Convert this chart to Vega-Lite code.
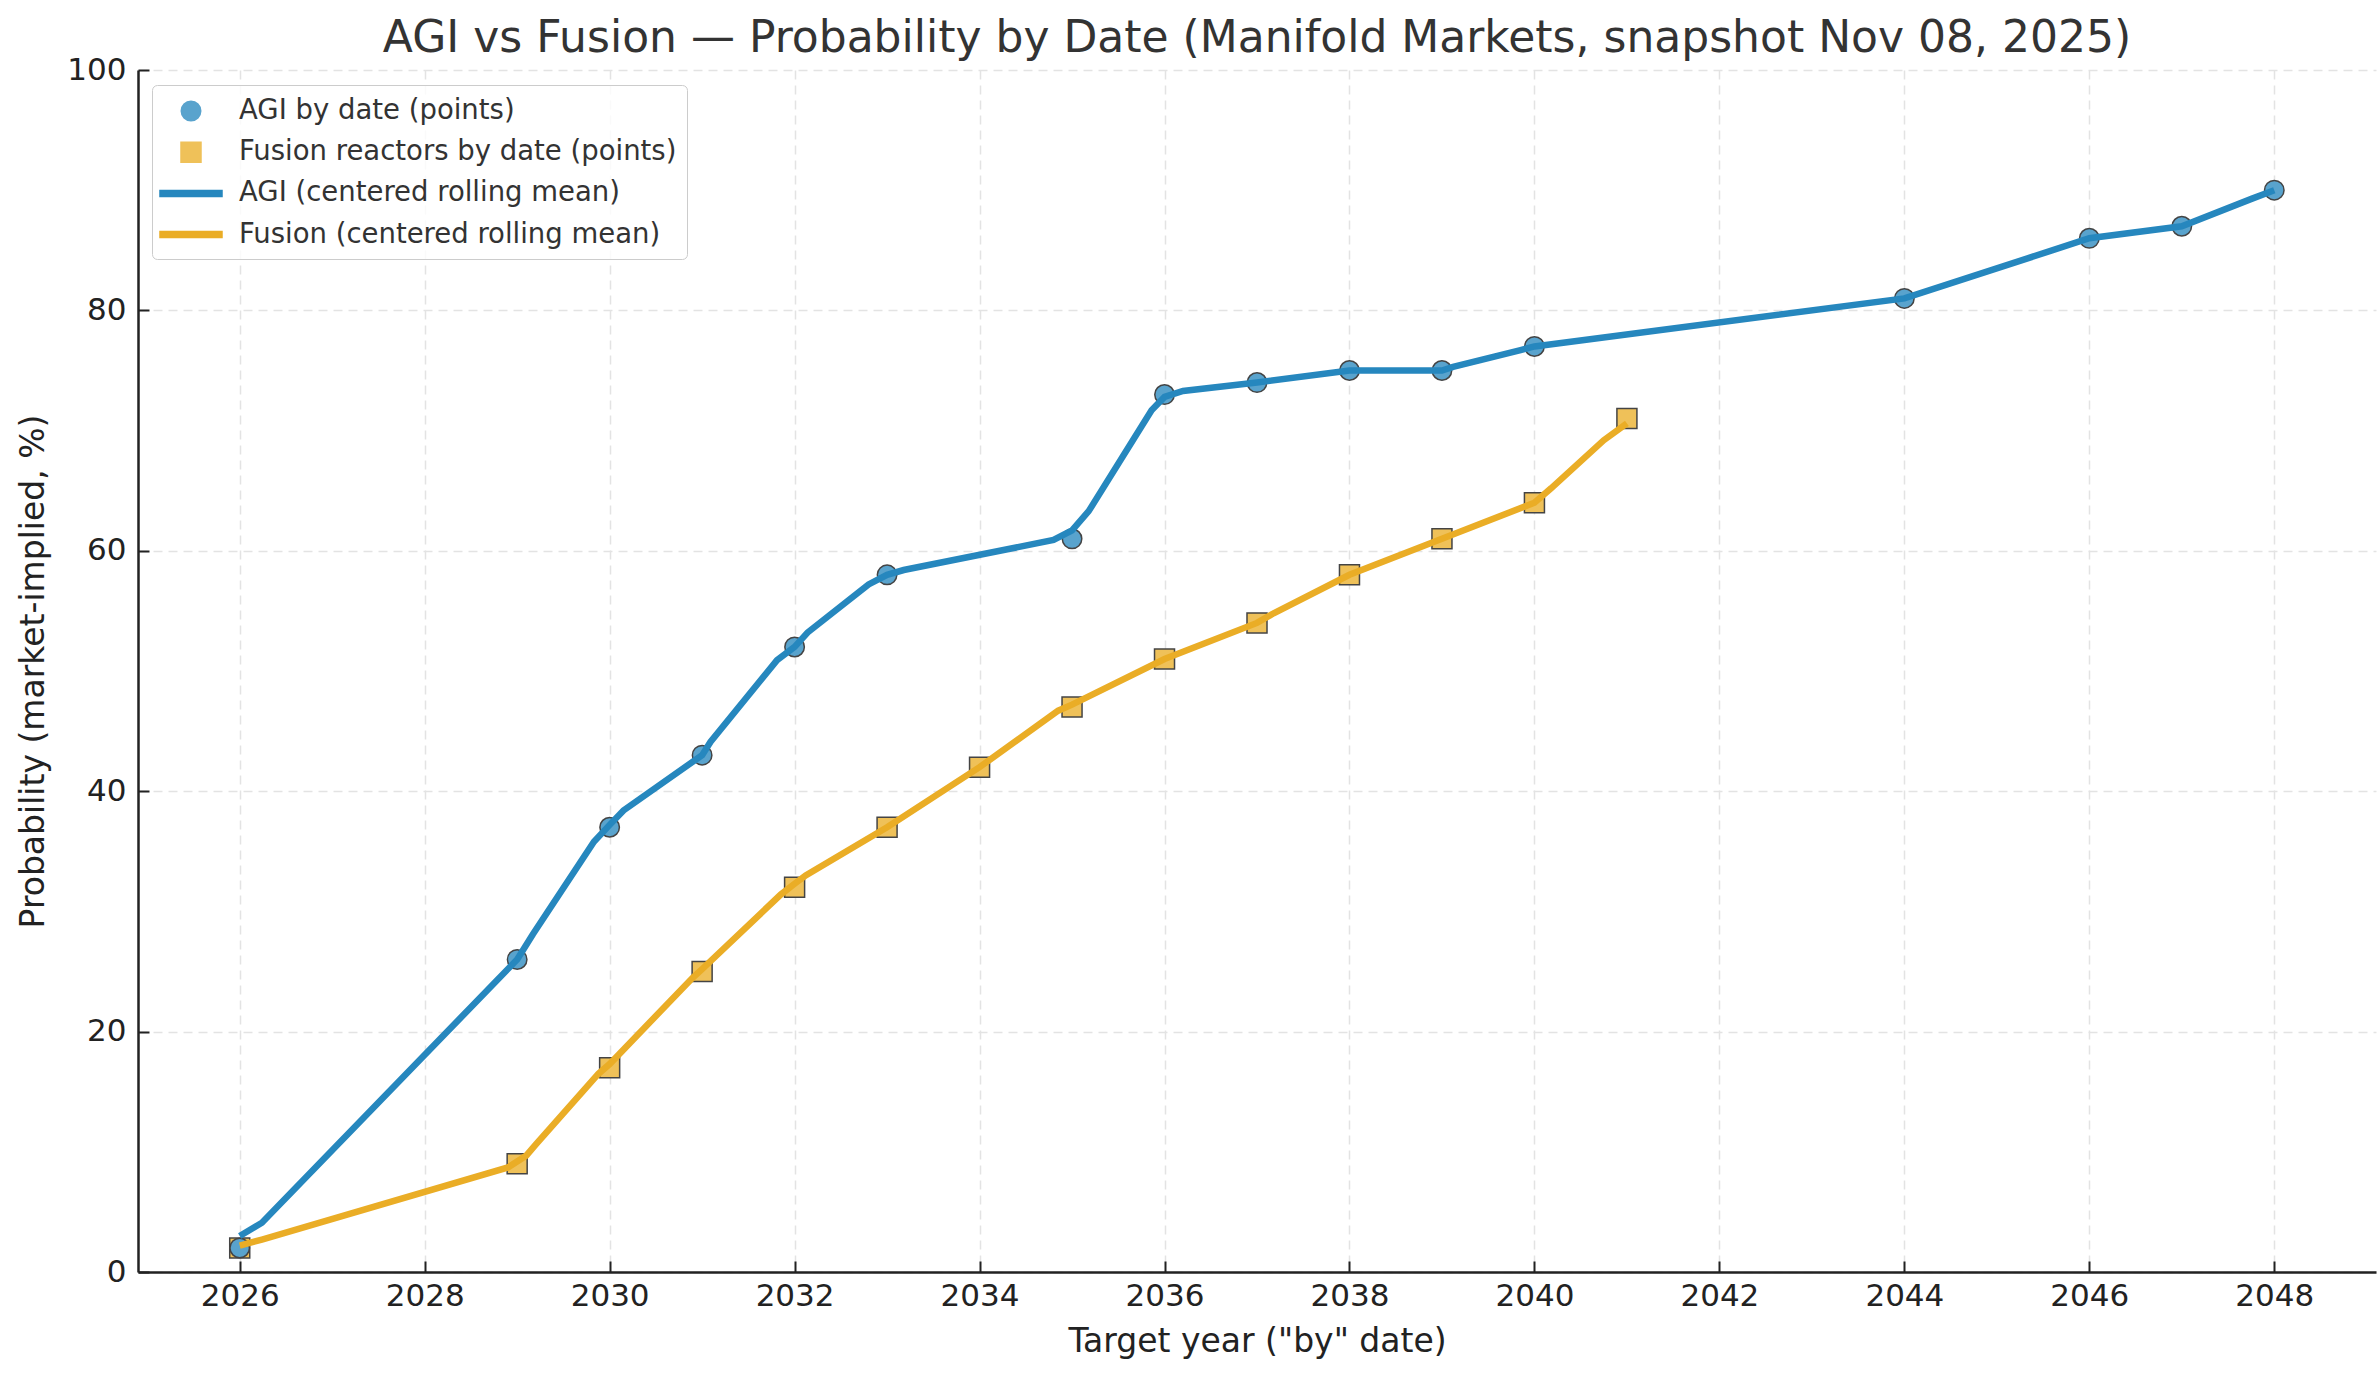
{
  "$schema": "https://vega.github.io/schema/vega-lite/v6.json",
  "width": 2238,
  "height": 1202,
  "autosize": {"type": "none"},
  "padding": {"left": 138, "top": 70, "right": 3, "bottom": 106},
  "background": "white",
  "title": {
    "text": "AGI vs Fusion — Probability by Date (Manifold Markets, snapshot Nov 08, 2025)",
    "font": "DejaVu Sans",
    "fontSize": 44,
    "fontWeight": "normal",
    "color": "#333333",
    "anchor": "middle",
    "baseline": "alphabetic",
    "offset": 16,
    "dy": 58
  },
  "config": {
    "view": {"stroke": null},
    "font": "DejaVu Sans",
    "axis": {
      "labelFont": "DejaVu Sans",
      "titleFont": "DejaVu Sans",
      "labelFontSize": 31,
      "titleFontSize": 33,
      "labelColor": "#222222",
      "titleColor": "#222222",
      "titleFontWeight": "normal",
      "domainColor": "#222222",
      "domainWidth": 2.5,
      "tickColor": "#222222",
      "tickWidth": 2,
      "tickSize": -11,
      "gridColor": "#e3e3e3",
      "gridWidth": 1.5,
      "gridDash": [9, 6]
    }
  },
  "data": {
    "values": [
      {"series": "Fusion reactors by date (points)", "year": 2026, "prob": 2},
      {"series": "Fusion reactors by date (points)", "year": 2029, "prob": 9},
      {"series": "Fusion reactors by date (points)", "year": 2030, "prob": 17},
      {"series": "Fusion reactors by date (points)", "year": 2031, "prob": 25},
      {"series": "Fusion reactors by date (points)", "year": 2032, "prob": 32},
      {"series": "Fusion reactors by date (points)", "year": 2033, "prob": 37},
      {"series": "Fusion reactors by date (points)", "year": 2034, "prob": 42},
      {"series": "Fusion reactors by date (points)", "year": 2035, "prob": 47},
      {"series": "Fusion reactors by date (points)", "year": 2036, "prob": 51},
      {"series": "Fusion reactors by date (points)", "year": 2037, "prob": 54},
      {"series": "Fusion reactors by date (points)", "year": 2038, "prob": 58},
      {"series": "Fusion reactors by date (points)", "year": 2039, "prob": 61},
      {"series": "Fusion reactors by date (points)", "year": 2040, "prob": 64},
      {"series": "Fusion reactors by date (points)", "year": 2041, "prob": 71},
      {"series": "AGI by date (points)", "year": 2026, "prob": 2},
      {"series": "AGI by date (points)", "year": 2029, "prob": 26},
      {"series": "AGI by date (points)", "year": 2030, "prob": 37},
      {"series": "AGI by date (points)", "year": 2031, "prob": 43},
      {"series": "AGI by date (points)", "year": 2032, "prob": 52},
      {"series": "AGI by date (points)", "year": 2033, "prob": 58},
      {"series": "AGI by date (points)", "year": 2035, "prob": 61},
      {"series": "AGI by date (points)", "year": 2036, "prob": 73},
      {"series": "AGI by date (points)", "year": 2037, "prob": 74},
      {"series": "AGI by date (points)", "year": 2038, "prob": 75},
      {"series": "AGI by date (points)", "year": 2039, "prob": 75},
      {"series": "AGI by date (points)", "year": 2040, "prob": 77},
      {"series": "AGI by date (points)", "year": 2044, "prob": 81},
      {"series": "AGI by date (points)", "year": 2046, "prob": 86},
      {"series": "AGI by date (points)", "year": 2047, "prob": 87},
      {"series": "AGI by date (points)", "year": 2048, "prob": 90},
      {"series": "AGI (centered rolling mean)", "year": 2026, "prob": 3.0},
      {"series": "AGI (centered rolling mean)", "year": 2026.24, "prob": 4.1},
      {"series": "AGI (centered rolling mean)", "year": 2029, "prob": 26.0},
      {"series": "AGI (centered rolling mean)", "year": 2029.17, "prob": 28.1},
      {"series": "AGI (centered rolling mean)", "year": 2029.83, "prob": 35.8},
      {"series": "AGI (centered rolling mean)", "year": 2030, "prob": 37.2},
      {"series": "AGI (centered rolling mean)", "year": 2030.15, "prob": 38.4},
      {"series": "AGI (centered rolling mean)", "year": 2031, "prob": 43.0},
      {"series": "AGI (centered rolling mean)", "year": 2031.09, "prob": 44.1},
      {"series": "AGI (centered rolling mean)", "year": 2031.81, "prob": 50.9},
      {"series": "AGI (centered rolling mean)", "year": 2032, "prob": 52.0},
      {"series": "AGI (centered rolling mean)", "year": 2032.14, "prob": 53.2},
      {"series": "AGI (centered rolling mean)", "year": 2032.8, "prob": 57.2},
      {"series": "AGI (centered rolling mean)", "year": 2033, "prob": 58.0},
      {"series": "AGI (centered rolling mean)", "year": 2033.18, "prob": 58.4},
      {"series": "AGI (centered rolling mean)", "year": 2034.8, "prob": 60.9},
      {"series": "AGI (centered rolling mean)", "year": 2035, "prob": 61.7},
      {"series": "AGI (centered rolling mean)", "year": 2035.18, "prob": 63.3},
      {"series": "AGI (centered rolling mean)", "year": 2035.86, "prob": 71.7},
      {"series": "AGI (centered rolling mean)", "year": 2036, "prob": 72.8},
      {"series": "AGI (centered rolling mean)", "year": 2036.2, "prob": 73.3},
      {"series": "AGI (centered rolling mean)", "year": 2037, "prob": 74.0},
      {"series": "AGI (centered rolling mean)", "year": 2038, "prob": 75.0},
      {"series": "AGI (centered rolling mean)", "year": 2039, "prob": 75.0},
      {"series": "AGI (centered rolling mean)", "year": 2039.12, "prob": 75.3},
      {"series": "AGI (centered rolling mean)", "year": 2039.85, "prob": 76.7},
      {"series": "AGI (centered rolling mean)", "year": 2040, "prob": 77.0},
      {"series": "AGI (centered rolling mean)", "year": 2044, "prob": 81.0},
      {"series": "AGI (centered rolling mean)", "year": 2046, "prob": 86.0},
      {"series": "AGI (centered rolling mean)", "year": 2047, "prob": 87.0},
      {"series": "AGI (centered rolling mean)", "year": 2047.76, "prob": 89.3},
      {"series": "AGI (centered rolling mean)", "year": 2048, "prob": 90.0},
      {"series": "Fusion (centered rolling mean)", "year": 2026, "prob": 2.2},
      {"series": "Fusion (centered rolling mean)", "year": 2026.24, "prob": 2.7},
      {"series": "Fusion (centered rolling mean)", "year": 2028.9, "prob": 8.7},
      {"series": "Fusion (centered rolling mean)", "year": 2029.1, "prob": 9.7},
      {"series": "Fusion (centered rolling mean)", "year": 2029.2, "prob": 10.6},
      {"series": "Fusion (centered rolling mean)", "year": 2029.88, "prob": 16.5},
      {"series": "Fusion (centered rolling mean)", "year": 2030, "prob": 17.3},
      {"series": "Fusion (centered rolling mean)", "year": 2030.9, "prob": 24.5},
      {"series": "Fusion (centered rolling mean)", "year": 2031, "prob": 25.2},
      {"series": "Fusion (centered rolling mean)", "year": 2031.85, "prob": 31.4},
      {"series": "Fusion (centered rolling mean)", "year": 2032, "prob": 32.3},
      {"series": "Fusion (centered rolling mean)", "year": 2032.12, "prob": 33.0},
      {"series": "Fusion (centered rolling mean)", "year": 2033, "prob": 37.0},
      {"series": "Fusion (centered rolling mean)", "year": 2034, "prob": 42.0},
      {"series": "Fusion (centered rolling mean)", "year": 2034.85, "prob": 46.7},
      {"series": "Fusion (centered rolling mean)", "year": 2035, "prob": 47.2},
      {"series": "Fusion (centered rolling mean)", "year": 2036, "prob": 51.0},
      {"series": "Fusion (centered rolling mean)", "year": 2037, "prob": 54.0},
      {"series": "Fusion (centered rolling mean)", "year": 2037.18, "prob": 54.8},
      {"series": "Fusion (centered rolling mean)", "year": 2038, "prob": 58.0},
      {"series": "Fusion (centered rolling mean)", "year": 2039, "prob": 61.0},
      {"series": "Fusion (centered rolling mean)", "year": 2040, "prob": 64.0},
      {"series": "Fusion (centered rolling mean)", "year": 2040.18, "prob": 65.2},
      {"series": "Fusion (centered rolling mean)", "year": 2040.75, "prob": 69.2},
      {"series": "Fusion (centered rolling mean)", "year": 2041, "prob": 70.6}
    ]
  },
  "encoding": {
    "x": {
      "field": "year",
      "type": "quantitative",
      "scale": {"domain": [2024.9, 2049.1], "nice": false, "zero": false},
      "axis": {
        "values": [2026, 2028, 2030, 2032, 2034, 2036, 2038, 2040, 2042, 2044, 2046, 2048],
        "format": "d",
        "title": "Target year (\"by\" date)",
        "labelPadding": 20,
        "titleBaseline": "alphabetic",
        "titleY": 79
      }
    },
    "y": {
      "field": "prob",
      "type": "quantitative",
      "scale": {"domain": [0, 100], "nice": false},
      "axis": {
        "values": [0, 20, 40, 60, 80, 100],
        "title": "Probability (market-implied, %)",
        "labelPadding": 23,
        "titleBaseline": "alphabetic",
        "titleX": -95,
        "titleY": 601
      }
    },
    "color": {
      "field": "series",
      "type": "nominal",
      "scale": {
        "domain": ["AGI by date (points)", "Fusion reactors by date (points)", "AGI (centered rolling mean)", "Fusion (centered rolling mean)"],
        "range": ["#59a3cd", "#efc159", "#2687be", "#eaad26"]
      },
      "legend": {
        "orient": "none",
        "legendX": 14,
        "legendY": 15,
        "title": null,
        "symbolSize": 900,
        "symbolStrokeWidth": 1.5,
        "symbolOffset": 13,
        "labelFont": "DejaVu Sans",
        "labelFontSize": 27.5,
        "labelColor": "#333333",
        "labelOffset": 32,
        "labelLimit": 1000,
        "padding": 10,
        "rowPadding": 11.2,
        "fillColor": "rgba(255,255,255,0.8)",
        "strokeColor": "#cccccc",
        "cornerRadius": 5
      }
    }
  },
  "layer": [
    {
      "transform": [{"filter": {"field": "series", "oneOf": ["AGI by date (points)", "Fusion reactors by date (points)"]}}],
      "mark": {"type": "point", "filled": true, "opacity": 1, "size": 900, "stroke": "#444444", "strokeWidth": 1.5},
      "encoding": {
        "shape": {
          "field": "series",
          "type": "nominal",
          "scale": {
            "domain": ["AGI by date (points)", "Fusion reactors by date (points)", "AGI (centered rolling mean)", "Fusion (centered rolling mean)"],
            "range": [
              "M-0.65,0A0.65,0.65,0,1,0,0.65,0A0.65,0.65,0,1,0,-0.65,0Z",
              "M-0.667,-0.667H0.667V0.667H-0.667Z",
              "M-2.067,-0.2H2.067V0.2H-2.067Z",
              "M-2.067,-0.2H2.067V0.2H-2.067Z"
            ]
          },
          "legend": {
            "orient": "none",
            "legendX": 14,
            "legendY": 15,
            "title": null
          }
        }
      }
    },
    {
      "transform": [{"filter": {"field": "series", "oneOf": ["AGI (centered rolling mean)", "Fusion (centered rolling mean)"]}}],
      "mark": {"type": "line", "strokeWidth": 6.5, "opacity": 1},
      "encoding": {}
    }
  ]
}
